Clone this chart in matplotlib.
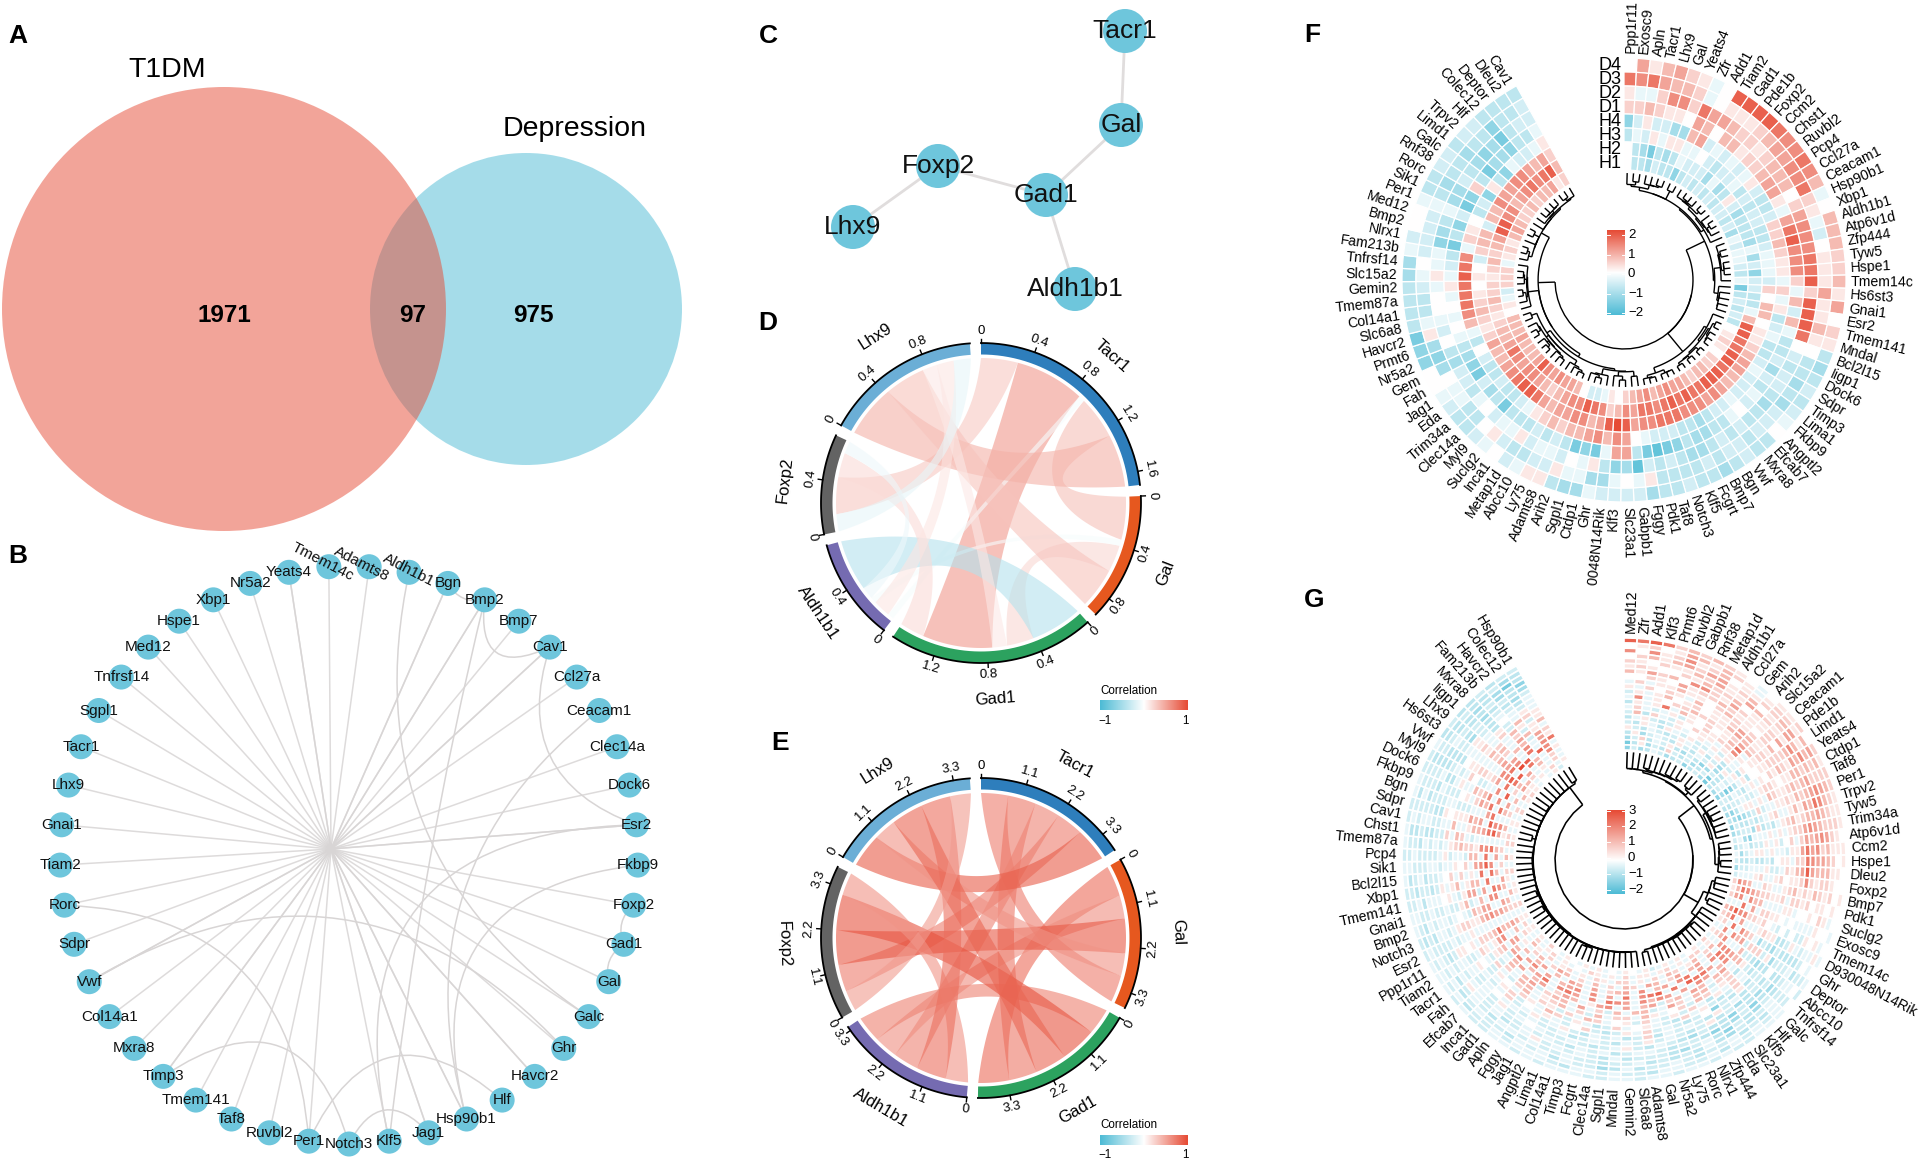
#! /usr/bin/python
import numpy as np
import matplotlib
matplotlib.use("Agg")
import matplotlib.pyplot as plt
from matplotlib.collections import PolyCollection, LineCollection
from matplotlib.colors import LinearSegmentedColormap
from matplotlib.patches import Circle, PathPatch
from matplotlib.path import Path

plt.rcParams['font.family'] = ['Liberation Sans', 'DejaVu Sans']

BLUE = "#4DBBD5"
RED = "#E64B35"
NODE = "#6EC6DC"
EDGE = "#d8d5d5"

# ------- A: venn -------
venn_counts = [1971, 97, 975]
venn_names = ["T1DM", "Depression"]

# ------- B: circular network (clockwise, Notch3 is the bottom node) -------
b_genes = ["Notch3", "Per1", "Ruvbl2", "Taf8", "Tmem141", "Timp3", "Mxra8", "Col14a1", "Vwf",
           "Sdpr", "Rorc", "Tiam2", "Gnai1", "Lhx9", "Tacr1", "Sgpl1", "Tnfrsf14", "Med12",
           "Hspe1", "Xbp1", "Nr5a2", "Yeats4", "Tmem14c", "Adamts8", "Aldh1b1", "Bgn", "Bmp2",
           "Bmp7", "Cav1", "Ccl27a", "Ceacam1", "Clec14a", "Dock6", "Esr2", "Fkbp9", "Foxp2",
           "Gad1", "Gal", "Galc", "Ghr", "Havcr2", "Hlf", "Hsp90b1", "Jag1", "Klf5"]
b_hub_genes = ["Tmem14c", "Adamts8", "Yeats4", "Yeats4", "Nr5a2", "Xbp1", "Hspe1", "Med12",
               "Tnfrsf14", "Sgpl1", "Tacr1", "Lhx9", "Gnai1", "Tiam2", "Rorc", "Sdpr", "Vwf", "Vwf",
               "Col14a1", "Mxra8", "Timp3", "Timp3", "Tmem141", "Taf8", "Ruvbl2", "Per1", "Klf5",
               "Jag1", "Jag1", "Hsp90b1", "Hsp90b1", "Havcr2", "Havcr2", "Ghr", "Galc", "Gal", "Gad1",
               "Foxp2", "Esr2", "Esr2", "Dock6", "Clec14a", "Ccl27a", "Cav1", "Cav1", "Bmp7", "Bmp2",
               "Bmp2", "Bgn", "Bgn"]
b_arcs = [("Bgn", "Bmp2", .05), ("Bmp2", "Cav1", .25), ("Foxp2", "Gad1", .05), ("Gad1", "Gal", .05),
          ("Notch3", "Jag1", .2), ("Cav1", "Esr2", .35), ("Rorc", "Per1", .65), ("Timp3", "Notch3", .5),
          ("Per1", "Hlf", .48), ("Vwf", "Ghr", 1.2), ("Ceacam1", "Hsp90b1", .75), ("Esr2", "Klf5", 1.17),
          ("Fkbp9", "Hsp90b1", .72), ("Aldh1b1", "Galc", 1.0), ("Klf5", "Bmp2", .2)]

# ------- C: small network -------
c_genes = ["Tacr1", "Gal", "Gad1", "Foxp2", "Lhx9", "Aldh1b1"]
c_x = [1125, 1121, 1046, 938, 853, 1075]
c_y = [31, 125, 195, 166, 227, 289]
c_edges = [("Tacr1", "Gal"), ("Gal", "Gad1"), ("Gad1", "Foxp2"), ("Foxp2", "Lhx9"), ("Gad1", "Aldh1b1")]

# ------- D, E: chord diagrams -------
chord_sectors = ["Tacr1", "Gal", "Gad1", "Aldh1b1", "Foxp2", "Lhx9"]
chord_colors = ["#2E7EBC", "#E6581F", "#2CA25F", "#756BB1", "#636363", "#6BAED6"]

d_links = {("Tacr1", "Gal"): .35, ("Tacr1", "Gad1"): .57, ("Tacr1", "Aldh1b1"): -.05, ("Tacr1", "Foxp2"): .30,
           ("Tacr1", "Lhx9"): .43, ("Gal", "Gad1"): .22, ("Gal", "Aldh1b1"): -.05, ("Gal", "Lhx9"): .33,
           ("Gad1", "Aldh1b1"): -.42, ("Gad1", "Foxp2"): .20, ("Gad1", "Lhx9"): .12,
           ("Aldh1b1", "Foxp2"): -.10, ("Aldh1b1", "Lhx9"): .14, ("Foxp2", "Lhx9"): -.14}
d_order = {"Tacr1": ["Foxp2", "Gad1", "Aldh1b1", "Gal", "Lhx9"],
           "Gal": ["Tacr1", "Aldh1b1", "Gad1", "Lhx9"],
           "Gad1": ["Aldh1b1", "Gal", "Lhx9", "Tacr1", "Foxp2"],
           "Aldh1b1": ["Tacr1", "Lhx9", "Gal", "Foxp2", "Gad1"],
           "Foxp2": ["Lhx9", "Tacr1", "Gad1", "Aldh1b1"],
           "Lhx9": ["Tacr1", "Gal", "Gad1", "Aldh1b1", "Foxp2"]}
d_ticks = {"Tacr1": [0, .4, .8, 1.2, 1.6], "Gal": [0, .4, .8], "Gad1": [0, .4, .8, 1.2],
           "Aldh1b1": [0, .4], "Foxp2": [0, .4], "Lhx9": [0, .4, .8]}

e_links = {("Tacr1", "Gal"): .72, ("Tacr1", "Gad1"): .75, ("Tacr1", "Aldh1b1"): .68, ("Tacr1", "Foxp2"): .72,
           ("Tacr1", "Lhx9"): .90, ("Gal", "Gad1"): .82, ("Gal", "Aldh1b1"): .62, ("Gal", "Foxp2"): .92,
           ("Gal", "Lhx9"): .60, ("Gad1", "Aldh1b1"): .70, ("Gad1", "Foxp2"): .95, ("Gad1", "Lhx9"): .85,
           ("Aldh1b1", "Foxp2"): .60, ("Aldh1b1", "Lhx9"): .80, ("Foxp2", "Lhx9"): .55}
e_order = {"Tacr1": ["Gal", "Gad1", "Aldh1b1", "Foxp2", "Lhx9"],
           "Gal": ["Gad1", "Aldh1b1", "Foxp2", "Lhx9", "Tacr1"],
           "Gad1": ["Aldh1b1", "Foxp2", "Lhx9", "Tacr1", "Gal"],
           "Aldh1b1": ["Foxp2", "Lhx9", "Tacr1", "Gal", "Gad1"],
           "Foxp2": ["Lhx9", "Tacr1", "Gal", "Gad1", "Aldh1b1"],
           "Lhx9": ["Tacr1", "Gal", "Gad1", "Aldh1b1", "Foxp2"]}
e_ticks = {s: [0, 1.1, 2.2, 3.3] for s in chord_sectors}

# ------- F: circular heatmap, digits = +0.25 each, letters a.. = -0.25 each -------
f_genes = ["Ppp1r11", "Exosc9", "Apln", "Tacr1", "Lhx9", "Gal", "Yeats4", "Zfr", "Add1", "Tiam2",
           "Gad1", "Pde1b", "Foxp2", "Ccm2", "Chst1", "Ruvbl2", "Pcp4", "Ccl27a", "Ceacam1", "Hsp90b1",
           "Xbp1", "Aldh1b1", "Atp6v1d", "Zfp444", "Tyw5", "Hspe1", "Tmem14c", "Hs6st3", "Gnai1", "Esr2",
           "Tmem141", "Mndal", "Bcl2l15", "Iigp1", "Dock6", "Sdpr", "Timp3", "Lima1", "Fkbp9", "Angptl2",
           "Efcab7", "Mxra8", "Vwf", "Bgn", "Bmp7", "Fcgrt", "Klf5", "Notch3", "Taf8", "Pdk1",
           "Fggy", "Gabpb1", "Slc23a1", "Klf3", "D930048N14Rik", "Ghr", "Ctdp1", "Sgpl1", "Arih2", "Adamts8",
           "Ly75", "Abcc10", "Metap1d", "Inca1", "Suclg2", "Myl9", "Clec14a", "Trim34a", "Eda", "Jag1",
           "Fah", "Gem", "Nr5a2", "Prmt6", "Havcr2", "Slc6a8", "Col14a1", "Tmem87a", "Gemin2", "Slc15a2",
           "Tnfrsf14", "Fam213b", "Nlrx1", "Bmp2", "Med12", "Per1", "Sik1", "Rorc", "Rnf38", "Galc",
           "Limd1", "Trpv2", "Hlf", "Colec12", "Deptor", "Dleu2", "Cav1"]
f_samples = ["D4", "D3", "D2", "D1", "H4", "H3", "H2", "H1"]
f_rows = {
    "D4": "0413421a07 777655653a 0333223140 21cdcbcba0 ccbcdccbcc dbbbbaddc1 1ab0abccba 00eefccccd dab00accbb cbbcccc",
    "D3": "6564332a01 1123445562 1ab0111411 310ccdcdbb bcbbcbcccc 1a0addaa1b bccb10ccaa 0ded1accba 0bbbbacdcc dcceccb",
    "D2": "1aa2552644 3221233302 4555667277 760bcbbcdc cbcbcddcbc bgdec1a0ba ab1aab0acb bdc0ba00a1 aaedcaddbc dedfcbb",
    "D1": "2232110430 331223441a 4675552a3b 3accbdbcab 0accddcefg fc44afefcb cbcccfcdbf edca0a0a1a bcfcebfe2c fddecca",
    "H4": "eb1bbdd34b ababa1bccb 223211a2a1 cbaccbabbb abbcdccbbb a045354332 321abccbcc b0ca356667 65a210cbe1 ceabba1",
    "H3": "cab1a11aa0 bcbbacbcbb ccbaaab203 3011234433 4545556665 5478743554 4346776543 3421232101 0b233b3354 4554342",
    "H2": "0cdfcdcabb bdadc1bdcc cdadbebbcc a377667767 7766767656 6453256755 4323455456 4332123221 2323477553 4565673",
    "H1": "0ccdbccecb cbcbcbbcbd abaabcafcb cbc0121022 3323445435 43201abb03 4454574333 433301ab22 2a12134322 3233412",
}

# ------- G: circular heatmap, digits = +0.375 each, letters a.. = -0.25 each -------
g_genes = ["Med12", "Zfr", "Add1", "Klf3", "Prmt6", "Ruvbl2", "Gabpb1", "Rnf38", "Metap1d", "Aldh1b1",
           "Ccl27a", "Gem", "Arih2", "Slc15a2", "Ceacam1", "Pde1b", "Limd1", "Yeats4", "Ctdp1", "Taf8",
           "Per1", "Trpv2", "Tyw5", "Trim34a", "Atp6v1d", "Ccm2", "Hspe1", "Dleu2", "Foxp2", "Bmp7",
           "Pdk1", "Suclg2", "Exosc9", "Tmem14c", "D930048N14Rik", "Ghr", "Deptor", "Abcc10", "Tnfrsf14", "Galc",
           "Hlf", "Klf5", "Slc23a1", "Eda", "Zfp444", "Nlrx1", "Rorc", "Ly75", "Nr5a2", "Gal",
           "Adamts8", "Slc6a8", "Gemin2", "Mndal", "Sgpl1", "Clec14a", "Fcgrt", "Timp3", "Col14a1", "Lima1",
           "Angptl2", "Jag1", "Fggy", "Apln", "Gad1", "Inca1", "Efcab7", "Fah", "Tacr1", "Tiam2",
           "Ppp1r11", "Esr2", "Notch3", "Bmp2", "Gnai1", "Tmem141", "Xbp1", "Bcl2l15", "Sik1", "Pcp4",
           "Tmem87a", "Chst1", "Cav1", "Sdpr", "Bgn", "Fkbp9", "Dock6", "Myl9", "Vwf", "Hs6st3",
           "Lhx9", "Iigp1", "Mxra8", "Fam213b", "Havcr2", "Colec12", "Hsp90b1"]
g_rows = [
    "7676232321 0a01120212 2111011001 00a0a0ab0a aabbabaaba abaabbaaab abaabbabaa abbaabbaab aabbaabbac bccbcbb",
    "0120143132 1a12213432 3212110100 1a0a1ab0ba babacabbaa cbbabaacba aababbcaba bacbabbcab bcabcbbcbc cbccbdc",
    "5051251230 1122341322 4322212112 0101a0baba cbcabbcbab bcacdbbaca bacbbabcab abbcbacbba bcbbabbcbb ccdcdfc",
    "0231342441 2301243532 5532433321 1210abcaba bcbdcacbcb cabbcbbabb abaacbabca bbcabcbabb cbabcbbcca bccbdce",
    "2102113241 1432115324 4643524322 10a1bcabcb dcbecabdcb bbcacbabab 1abcaba1ab cbabaabcbb acabbcaccb cbdcbcd",
    "1210021322 3011243433 3334454313 01abacbcdc ebdcecbbcb aabcabacba babbabaaba bbaabacbab bcbcbacbcb dbcbcdb",
    "3142305521 4211202132 2435345421 20ab1cbcbd cbeccbdcba cb1abcbabb a0ab1babaa 1abababbab abbcbbcaca 1bcabca",
    "0021041223 2110232213 3124466752 10a0bcb0cb cdbc1bcbab 1bacbabcab babaa0abab 1baba01aba bba1abab0a 1ac0aba",
    "a2a1131102 3212112312 1312242421 2a0bcbdcbb cab1cbabac 2bcabacb1a b1ab2aba1b 0a1ab1a0a1 a2a0ab1a1a 2a1ba1a",
    "1a2021a301 1243122101 2132a12313 21a0cd1cbc 1cbe0bcbab 2a1bcb20ba 1a0b21ab0a 1a20ba12ab 1a31b0a21a 1a2b321",
    "b1a1301201 1343221211 1a2121a112 a10b1cbdca 2bcb1a2cba 10a2bca1b2 3a12a01ba2 a12a1b3a1a 23a1b1a02a 32a31b1",
    "a5a1022322 1124311022 1a1a0b1201 2a1a1b2cba 2a1ca2b1ba 2b10a23a2b 12a32ba2b1 2a1b31a20a 32a1ba3b2a 23a2b13",
    "c1a16a3102 0136a10123 a2a1ba1a2a 1a102d2b1c 21a23b20a1 3a22a3b2a3 21a33a2b1a 2a13b41a2b 2a14a22b1a 32a431a",
    "a2aba1b102 1225100a1a a1ca1a0b1a 1a221a2b3a 22b33a24ab 33a3b2a4a3 32b43a3a21 2a32a431a3 2b33a43a2a 4a33b42",
    "b3c2ab1021 1a11a1c1a1 bab1a1cba1 2a21a2b33a 43a34a32b4 3a4a541a34 2a43a43b34 3a443b3a43 1a34a35a45 44a5a41",
    "ca1bcb1a01 a1b1ac1aba 2bca1ab1a2 23a2a34a45 3a45a4a453 5a456a5a46 5a643a54a5 6a54a4a65a 5a4a46a5a5 65a6a56",
    "bc1ac1ab1b ba1cb1acb1 bc2ab1ca2a 3342a53a55 a4667a6a76 5a6a4a5a54 3a4a54a34a 3a4a5a6a76 5a676a5a67 a87a75a",
    "1bcabcb1ab 1cbd1acba1 cbdab1ca1a 45a54a5a56 5a4a65a43a 5a432a4a34 a3a43a3a4a 3a4a56a65a 6a75a6a7a6 7a63a51",
    "c1dbabc1bc ab1dcbeaba dcbecabaa3 5a65a6a54a 3a43a42a34 a23a2a3a2a 342a32a1a3 4a34a5a3a4 3a45a34a23 a4a3a2a",
    "db2cab1cdb cedbcafcbc ecbdabcba4 65a76a53a3 2a31a23a2a 1a22a12a1a 21a2a13a2a 3a23a34a2a 2a13a2a3a4 32a1a2a",
    "fc1dbc2bcb dcbfcbdbce dbcabdcba5 34a532a2a1 a22a1a21a1 1a2a1a12a0 a1a21a2a12 1a2a3a12a3 a22a1a2a31 1a1a2a1",
    "ebdcabdcbe cbdfcdebcd cedbcabdb2 12a321a1a2 a10a1a1ab1 a01a0a1a1a 01a02a1a1a 1a2a11a2a1 a21a1a2a12 1a0a1b0",
]


def decode(row, pos_step, n=97):
    # las filas estan escritas a mano como texto: digito positivo, letra negativo
    row = row.replace(" ", "").ljust(n, "0")[:n]
    out = []
    for ch in row:
        if ch.isdigit():
            out.append(int(ch)*pos_step)
        else:
            out.append(-(ord(ch) - ord("a") + 1)*0.25)
    return out


def polar(cx, cy, r, deg):
    # angulo en grados, 0 arriba, sentido horario, y de pixel hacia abajo
    t = np.radians(deg)
    return cx + r*np.sin(t), cy - r*np.cos(t)


def arc(cx, cy, r, d0, d1, n=40):
    xs, ys = polar(cx, cy, r, np.linspace(d0, d1, n))
    return np.column_stack((xs, ys))


fig = plt.figure(figsize=(19.22, 11.59), dpi=100)
ax = fig.add_axes([0, 0, 1, 1])
ax.axis("off")


def panel_letter(x, y, s):
    ax.text(x, y, s, fontsize=19, fontweight="bold", ha="center", va="center", color="black")


for x, y, s in [(18, 36, "A"), (18, 556, "B"), (768, 36, "C"), (768, 323, "D"), (780, 743, "E"),
                (1312, 35, "F"), (1314, 600, "G")]:
    panel_letter(x, y, s)

# ------------ A ------------
ax.add_patch(Circle((526, 309), 156, fc=BLUE, ec="none", alpha=.5))
ax.add_patch(Circle((224, 309), 222, fc=RED, ec="none", alpha=.5))
ax.text(167, 70, venn_names[0], fontsize=20.5, ha="center", va="center")
ax.text(575, 129, venn_names[1], fontsize=20.5, ha="center", va="center")
for x, c in zip((224, 413, 533), venn_counts):
    ax.text(x, 316, str(c), fontsize=17.5, fontweight="bold", ha="center", va="center")

# ------------ B ------------
b_cx, b_cy, b_r = 349, 855, 289
b_hub = (331, 849)
b_pos = {}
for i, g in enumerate(b_genes):
    b_pos[g] = polar(b_cx, b_cy, b_r, 180 + 8*i)

for g in b_hub_genes:
    ax.plot([b_pos[g][0], b_hub[0]], [b_pos[g][1], b_hub[1]], color=EDGE, lw=1.1, alpha=.85, zorder=2)
for a, b, bulge in b_arcs:
    p0, p1 = np.array(b_pos[a]), np.array(b_pos[b])
    mid = (p0 + p1)/2
    ctrl = mid + (np.array([b_cx, b_cy]) - mid)*bulge
    path = Path([p0, ctrl, p1], [Path.MOVETO, Path.CURVE3, Path.CURVE3])
    ax.add_patch(PathPatch(path, fc="none", ec=EDGE, lw=1.1, zorder=2))
for g in b_genes:
    x, y = b_pos[g]
    ax.add_patch(Circle((x, y), 12.5, fc=NODE, ec="none", zorder=3))
    rot, dx, dy = 0, 0, 0
    if g == "Tmem14c":
        rot, dx, dy = -27, -6, -5
    elif g == "Adamts8":
        rot, dx, dy = -27, -8, -3
    elif g == "Aldh1b1":
        rot, dx, dy = -27, 0, -2
    ax.text(x + dx, y + dy, g, fontsize=11, ha="center", va="center", rotation=rot,
            rotation_mode="anchor", zorder=4, color="#111111")

# ------------ C ------------
c_pos = dict(zip(c_genes, zip(c_x, c_y)))
for a, b in c_edges:
    ax.plot([c_pos[a][0], c_pos[b][0]], [c_pos[a][1], c_pos[b][1]], color="#e0dddd", lw=2, zorder=2)
for g in c_genes:
    ax.add_patch(Circle(c_pos[g], 22, fc=NODE, ec="none", zorder=3))
    ax.text(c_pos[g][0], c_pos[g][1], g, fontsize=19, ha="center", va="center", zorder=4, color="#111111")

# ------------ D y E ------------
corr_cmap = LinearSegmentedColormap.from_list("corr", [BLUE, "white", RED])


def ribbon(cx, cy, rin, a0, a1, b0, b1, pull=.2):
    # cinta: arco en un sector, bezier al otro sector; el control se aleja un poco del centro
    t = np.linspace(0, 1, 40)[:, None]
    c = np.array([cx, cy])
    pa0, pa1 = arc(cx, cy, rin, a0, a1), arc(cx, cy, rin, b0, b1)
    ctrl1 = c + pull*((pa0[-1] + pa1[0])/2 - c)
    ctrl2 = c + pull*((pa1[-1] + pa0[0])/2 - c)
    side1 = (1 - t)**2*pa0[-1] + 2*t*(1 - t)*ctrl1 + t**2*pa1[0]
    side2 = (1 - t)**2*pa1[-1] + 2*t*(1 - t)*ctrl2 + t**2*pa0[0]
    return np.vstack((pa0, side1, pa1, side2))


def chord(cx, cy, links, order, ticks, lx, ly):
    totals = {s: 0.0 for s in chord_sectors}
    for (a, b), v in links.items():
        totals[a] += abs(v)
        totals[b] += abs(v)
    gap = 4.0
    per_unit = (360 - gap*len(chord_sectors))/sum(totals.values())
    start = {}
    ang = 0.0
    for s in chord_sectors:
        start[s] = ang
        ang += totals[s]*per_unit + gap

    # posiciones de cada cinta dentro de cada sector
    pos = {}
    for s in chord_sectors:
        a = start[s]
        for partner in order[s]:
            v = links.get((s, partner), links.get((partner, s)))
            pos[(s, partner)] = (a, a + abs(v)*per_unit)
            a += abs(v)*per_unit

    for (a, b), v in links.items():
        a0, a1 = pos[(a, b)]
        b0, b1 = pos[(b, a)]
        ax.fill(*ribbon(cx, cy, 145, a0, a1, b0, b1).T, color=corr_cmap((v + 1)/2), alpha=.6, lw=0, zorder=2)

    for s, col in zip(chord_sectors, chord_colors):
        d0 = start[s]
        d1 = d0 + totals[s]*per_unit
        band = np.vstack((arc(cx, cy, 160, d0, d1), arc(cx, cy, 148.5, d1, d0)))
        ax.fill(*band.T, color=col, lw=0, zorder=3)
        ax.plot(*arc(cx, cy, 160, d0, d1).T, color="black", lw=1.3, zorder=4)
        for v in ticks[s]:
            d = d0 + v*per_unit
            p0, p1 = polar(cx, cy, 160, d), polar(cx, cy, 164.5, d)
            ax.plot([p0[0], p1[0]], [p0[1], p1[1]], color="black", lw=1, zorder=4)
            rot = 180 - d if 90 < d < 270 else -d
            ax.text(*polar(cx, cy, 172, d), f"{v:g}", fontsize=9.5, ha="center", va="center",
                    rotation=rot, rotation_mode="anchor")
        dm = (d0 + d1)/2
        rot = 180 - dm if 90 < dm < 270 else -dm
        ax.text(*polar(cx, cy, 197, dm), s, fontsize=12, ha="center", va="center", rotation=rot,
                rotation_mode="anchor")

    # leyenda de correlacion
    grad = np.linspace(0, 1, 200)[None, :]
    ax.imshow(grad, cmap=corr_cmap, extent=(lx, lx + 88, ly + 10, ly), aspect="auto", zorder=3)
    ax.text(lx, ly - 9.5, "Correlation", fontsize=8.4, ha="left", va="center")
    ax.text(lx + 5, ly + 20, "\u22121", fontsize=8.4, ha="center", va="center")
    ax.text(lx + 85, ly + 20, "1", fontsize=8.4, ha="center", va="center")


chord(981, 503, d_links, d_order, d_ticks, 1100, 700.5)
chord(981, 938, e_links, e_order, e_ticks, 1100, 1135)

# ------------ F y G ------------


def dendrogram(cx, cy, thetas, values, rleaf, rroot, power, lw, split):
    # agrupamiento de vecinos (el orden de las hojas queda fijo); las dos mitades se unen al final
    cl = [{"m": values[:, i], "n": 1, "t": thetas[i], "h": 0.0, "r": rleaf, "side": i >= split}
          for i in range(values.shape[1])]
    merges = []
    while len(cl) > 1:
        best, bd = 0, np.inf
        for i in range(len(cl) - 1):
            a, b = cl[i], cl[i + 1]
            d = np.linalg.norm(a["m"] - b["m"])*np.sqrt(a["n"]*b["n"]/(a["n"] + b["n"]))
            if a["side"] != b["side"] and len(cl) > 2:
                d = np.inf
            if d < bd:
                best, bd = i, d
        a, b = cl[best], cl[best + 1]
        n = a["n"] + b["n"]
        new = {"m": (a["m"]*a["n"] + b["m"]*b["n"])/n, "n": n, "t": (a["t"] + b["t"])/2,
               "h": max(bd, a["h"], b["h"]), "r": 0.0, "side": a["side"]}
        merges.append((a, b, new))
        cl[best:best + 2] = [new]
    hmax = cl[0]["h"]
    segs = []
    for a, b, new in merges:
        new["r"] = rleaf - (rleaf - rroot)*(new["h"]/hmax)**power
        for c in (a, b):
            segs.append(np.array([polar(cx, cy, c["r"], c["t"]), polar(cx, cy, new["r"], c["t"])]))
        segs.append(arc(cx, cy, new["r"], a["t"], b["t"], 24))
    ax.add_collection(LineCollection(segs, colors="black", linewidths=lw, zorder=3))


def circ_heatmap(cx, cy, genes, rows, cmap, vmin, vmax, edge_lw, rleaf, rroot, power, tree_lw):
    span = 331.0
    dtheta = span/len(genes)
    rout, rin = 222.0, 110.0
    dr = (rout - rin)/len(rows)
    polys, vals = [], []
    for k, row in enumerate(rows):
        r1 = rout - k*dr
        r0 = r1 - dr
        for i, v in enumerate(row):
            d0, d1 = i*dtheta, (i + 1)*dtheta
            polys.append(np.vstack((arc(cx, cy, r1, d0, d1, 5), arc(cx, cy, r0, d1, d0, 5))))
            vals.append(v)
    pc = PolyCollection(polys, array=np.array(vals), cmap=cmap, edgecolors="white", linewidths=edge_lw, zorder=2)
    pc.set_clim(vmin, vmax)
    ax.add_collection(pc)
    thetas = (np.arange(len(genes)) + .5)*dtheta
    dendrogram(cx, cy, thetas, np.array(rows, dtype=float), rleaf, rroot, power, tree_lw, 50)
    for g, d in zip(genes, thetas):
        x, y = polar(cx, cy, rout + 5, d)
        if d < 180:
            ax.text(x, y, g, fontsize=10.2, rotation=90 - d, ha="left", va="center", rotation_mode="anchor", zorder=5)
        else:
            ax.text(x, y, g, fontsize=10.2, rotation=270 - d, ha="right", va="center", rotation_mode="anchor", zorder=5)


def heat_bar(x0, x1, y_top, y_bot, cmap, vmin, vmax, ticks, tick_y):
    grad = np.linspace(vmax, vmin, 200)[:, None]
    ax.imshow(grad, cmap=cmap, vmin=vmin, vmax=vmax, extent=(x0, x1, y_bot, y_top), aspect="auto", zorder=3)
    for v, y in zip(ticks, tick_y):
        ax.plot([x0, x0 + 3], [y, y], color="white", lw=.7, zorder=4)
        ax.plot([x1 - 3, x1], [y, y], color="white", lw=.7, zorder=4)
        ax.text(x1 + 3, y, str(v).replace("-", "\u2212"), fontsize=9.5, ha="left", va="center")


f_cmap = LinearSegmentedColormap.from_list("f", [BLUE, "white", RED])
f_vals = [decode(f_rows[s], 0.25) for s in f_samples]
circ_heatmap(1624, 280, f_genes, f_vals, f_cmap, -2, 2, .9, 107, 69, .55, 1.0)
heat_bar(1607, 1625, 230, 315, f_cmap, -2, 2, [2, 1, 0, -1, -2], [235, 255, 274, 294, 313])
for k, s in enumerate(f_samples):
    ax.text(1622, 65 + 14*k, s, fontsize=13, ha="right", va="center")

# la etiqueta larga de F queda cortada por el panel G en el original
ax.add_patch(plt.Rectangle((1570, 586), 48, 45, fc="white", ec="none", zorder=6))

g_cmap = LinearSegmentedColormap.from_list("g", [(0, BLUE), (0.4, "white"), (1, RED)])
g_vals = [decode(r, 0.375) for r in g_rows]
circ_heatmap(1624, 860, g_genes, g_vals, g_cmap, -2, 3, 1.2, 108, 69, .5, 1.15)
heat_bar(1607, 1625, 810, 894, g_cmap, -2, 3, [3, 2, 1, 0, -1, -2], [811, 826, 842, 858, 874, 890])

ax.set_xlim(0, 1922)
ax.set_ylim(1159, 0)
fig.savefig("out.png", dpi=100)
